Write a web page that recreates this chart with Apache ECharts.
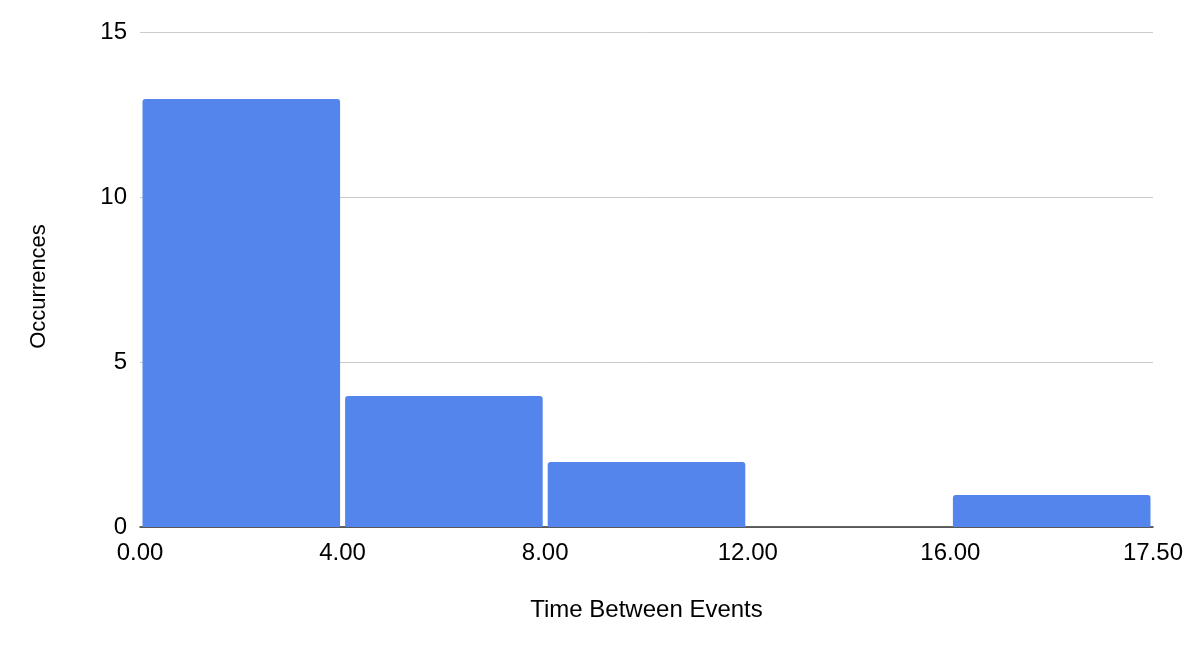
<!DOCTYPE html>
<html>
<head>
<meta charset="utf-8">
<script src="https://cdn.jsdelivr.net/npm/echarts@6/dist/echarts.min.js"></script>
<style>
html,body{margin:0;padding:0;background:#fff;}
#chart{width:1188px;height:650px;}
</style>
</head>
<body>
<div id="chart"></div>
<script>
var binStarts = [0, 4, 8, 12, 16];
var binEnds = [4, 8, 12, 16, 20];
var counts = [13, 4, 2, 0, 1];
var tickValues = [0, 4, 8, 12, 16, 20];
var tickLabels = ['0.00', '4.00', '8.00', '12.00', '16.00', '17.50'];

var FONT = 'Liberation Sans, Arial, sans-serif';
var chart = echarts.init(document.getElementById('chart'));
var data = binStarts.map(function (s, i) { return [s, binEnds[i], counts[i]]; });

chart.setOption({
  animation: false,
  grid: { left: 140, right: 35, top: 32, bottom: 123 },
  xAxis: {
    type: 'value', min: 0, max: 20, interval: 4,
    name: 'Time Between Events', nameLocation: 'middle', nameGap: 71,
    nameTextStyle: { color: '#000', fontSize: 24, fontFamily: FONT },
    axisLine: { show: true, lineStyle: { color: '#333', width: 1.5 } },
    axisTick: { show: false },
    splitLine: { show: false },
    axisLabel: {
      color: '#000', fontSize: 24, fontFamily: FONT, margin: 14,
      formatter: function (v) {
        var i = tickValues.indexOf(v);
        return i >= 0 ? tickLabels[i] : '';
      }
    }
  },
  yAxis: {
    type: 'value', min: 0, max: 15, interval: 5,
    name: 'Occurrences', nameLocation: 'middle', nameGap: 90, nameRotate: 90,
    nameTextStyle: { color: '#000', fontSize: 22, fontFamily: FONT, padding: [0, 14, 0, 0] },
    axisLine: { show: false },
    axisTick: { show: false },
    splitLine: { lineStyle: { color: '#ccc', width: 1 } },
    axisLabel: { color: '#000', fontSize: 24, fontFamily: FONT, margin: 13 }
  },
  series: [{
    type: 'custom',
    data: data,
    encode: { x: [0, 1], y: 2 },
    renderItem: function (params, api) {
      var v = api.value(2);
      if (!v) return null;
      var p0 = api.coord([api.value(0), v]);
      var p1 = api.coord([api.value(1), 0]);
      var inset = 2.5;
      return {
        type: 'rect',
        shape: { x: p0[0] + inset, y: p0[1] + 1, width: p1[0] - p0[0] - inset * 2, height: p1[1] - p0[1] - 1, r: [3, 3, 0, 0] },
        style: { fill: '#5385ec' }
      };
    },
    z: 1
  }]
});
</script>
</body>
</html>
